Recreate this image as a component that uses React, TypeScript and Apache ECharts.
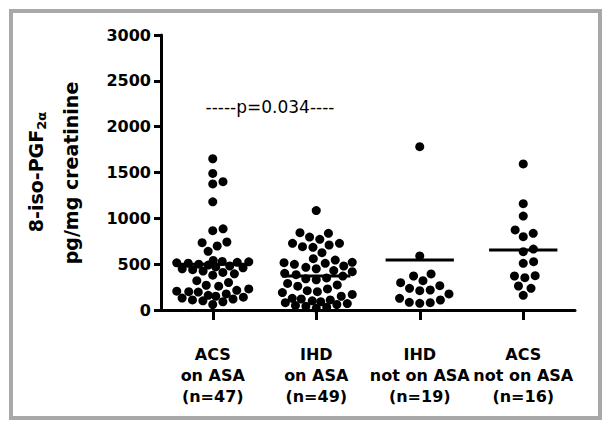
import React, { useEffect, useRef } from "react";
import * as echarts from "echarts";

const categories = [
  "ACS\non ASA\n(n=47)",
  "IHD\non ASA\n(n=49)",
  "IHD\nnot on ASA\n(n=19)",
  "ACS\nnot on ASA\n(n=16)",
];

const acsOnAsa = [
  1650, 1490, 1400, 1375, 1180, 885, 865, 742, 734, 698, 640,
  540, 530, 525, 520, 515, 510, 500, 490, 480, 470, 460, 450, 440, 425, 410, 395, 380,
  320, 300, 270, 260, 230, 215, 205, 200, 195, 175, 160, 150, 140, 130, 120, 110, 100, 90, 60,
];
const ihdOnAsa = [
  1085, 843, 836, 796, 771, 727, 727, 709, 691, 684, 625,
  560, 545, 520, 516, 509, 498, 480, 466, 450, 430, 418, 400, 385, 370, 350, 340, 330,
  290, 273, 260, 230, 211, 200, 190, 170, 150, 127, 120, 110, 100, 90, 80, 70, 60, 50, 40, 30, 20,
];
const ihdNotOnAsa = [1782, 589, 393, 371, 320, 298, 265, 237, 218, 211, 175, 127, 109, 84, 80, 73];
const acsNotOnAsa = [1593, 1160, 1025, 873, 836, 800, 665, 636, 527, 509, 374, 371, 353, 262, 237, 160];

const groups = [acsOnAsa, ihdOnAsa, ihdNotOnAsa, acsNotOnAsa];
const centralLines = [500, 370, 545, 655];

const yMin = 0;
const yMax = 3000;
const yInterval = 500;
const pValueText = "-----p=0.034----";

const FONT = "'DejaVu Sans', 'Liberation Sans', Arial, sans-serif";

// beeswarm layout in pixel space, with a maximum half-width (points overlap beyond it)
function swarm(ys: number[], D: number, W: number): number[] {
  const order = ys.map((_, i) => i).sort((a, b) => ys[b] - ys[a]);
  const xs = new Array(ys.length).fill(0);
  const placed: number[] = [];
  const minDist = (c: number, i: number) => {
    let best = Infinity;
    for (const j of placed) {
      const dx = c - xs[j];
      const dy = ys[i] - ys[j];
      best = Math.min(best, Math.sqrt(dx * dx + dy * dy));
    }
    return best;
  };
  for (const i of order) {
    const cands = [0];
    for (const j of placed) {
      const dy = ys[i] - ys[j];
      if (Math.abs(dy) < D) {
        const w = Math.sqrt(D * D - dy * dy);
        cands.push(xs[j] + w, xs[j] - w);
      }
    }
    cands.sort((a, b) => Math.abs(a) - Math.abs(b));
    let chosen: number | null = null;
    for (const c of cands) {
      if (Math.abs(c) > W) continue;
      if (minDist(c, i) >= D - 0.01) {
        chosen = c;
        break;
      }
    }
    if (chosen === null) {
      let bestC = 0;
      let bestD = -1;
      for (let c = -W; c <= W; c += 0.5) {
        const d = minDist(c, i);
        if (d > bestD + 1e-6) {
          bestD = d;
          bestC = c;
        }
      }
      chosen = bestC;
    }
    xs[i] = chosen;
    placed.push(i);
  }
  return xs;
}

export default function App() {
  const ref = useRef<HTMLDivElement>(null);
  useEffect(() => {
    document.body.style.margin = "0";
    const el = ref.current!;
    const chart = echarts.init(el, null, { renderer: "svg" });
    const base: any = {
      animation: false,
      backgroundColor: "#fff",
      grid: { left: 161, right: 29, top: 35, bottom: 113, containLabel: false },
      xAxis: [
        {
          type: "category",
          data: categories,
          boundaryGap: true,
          axisLine: { show: true, onZero: false, lineStyle: { color: "#000", width: 3 } },
          axisTick: { show: true, alignWithLabel: true, length: 10, lineStyle: { color: "#000", width: 3 } },
          axisLabel: {
            color: "#000",
            fontFamily: FONT,
            fontWeight: "bold",
            fontSize: 16,
            lineHeight: 21,
            margin: 34,
            interval: 0,
          },
          splitLine: { show: false },
        },
        { type: "value", min: -0.5, max: 3.5, show: false, splitLine: { show: false } },
      ],
      yAxis: {
        type: "value",
        min: yMin,
        max: yMax,
        interval: yInterval,
        axisLine: { show: true, onZero: false, lineStyle: { color: "#000", width: 3 } },
        axisTick: { show: true, length: 7, lineStyle: { color: "#000", width: 3 } },
        axisLabel: {
          color: "#000",
          fontFamily: FONT,
          fontWeight: "bold",
          fontSize: 16,
          margin: 10,
          formatter: (v: number) => String(v),
        },
        splitLine: { show: false },
      },
      graphic: [
        {
          type: "rect",
          shape: { x: 11, y: 11, width: 589, height: 407 },
          style: { fill: "none", stroke: "#a8a8a8", lineWidth: 4 },
          silent: true,
        },
        {
          type: "text",
          x: 36,
          y: 172,
          rotation: Math.PI / 2,
          style: {
            text: "{a|8-iso-PGF}{s|2α}",
            align: "center",
            verticalAlign: "middle",
            fill: "#000",
            rich: {
              a: { fontFamily: FONT, fontWeight: "bold", fontSize: 19, lineHeight: 24, fill: "#000" },
              s: { fontFamily: FONT, fontWeight: "bold", fontSize: 13, lineHeight: 13, verticalAlign: "bottom", fill: "#000" },
            },
          },
        },
        {
          type: "text",
          x: 71,
          y: 173,
          rotation: Math.PI / 2,
          style: {
            text: "pg/mg creatinine",
            align: "center",
            verticalAlign: "middle",
            fill: "#000",
            font: `bold 19px ${FONT}`,
          },
        },
        {
          type: "text",
          x: 270,
          y: 107,
          style: {
            text: pValueText,
            align: "center",
            verticalAlign: "middle",
            fill: "#000",
            font: `17px ${FONT}`,
          },
        },
      ],
      series: [],
    };
    chart.setOption(base);

    const px0 = chart.convertToPixel({ xAxisIndex: 1 } as any, 0) as number;
    const px1 = chart.convertToPixel({ xAxisIndex: 1 } as any, 1) as number;
    const unit = px1 - px0;
    const D = 10.5;
    const W = 36;

    const series: any[] = groups.map((vals, gi) => {
      const ys = vals.map((v) => chart.convertToPixel({ yAxisIndex: 0 } as any, v) as number);
      const xs = swarm(ys, D, W);
      return {
        type: "scatter",
        xAxisIndex: 1,
        yAxisIndex: 0,
        symbol: "circle",
        symbolSize: 9,
        itemStyle: { color: "#000", opacity: 1 },
        data: vals.map((v, i) => [gi + xs[i] / unit, v]),
        silent: true,
      };
    });
    series.push({
      type: "custom",
      coordinateSystem: "cartesian2d",
      xAxisIndex: 1,
      yAxisIndex: 0,
      data: centralLines.map((m, i) => [i, m]),
      renderItem: (_params: any, api: any) => {
        const c = api.value(0);
        const m = api.value(1);
        const p1 = api.coord([c - 0.33, m]);
        const p2 = api.coord([c + 0.33, m]);
        return {
          type: "line",
          shape: { x1: p1[0], y1: p1[1], x2: p2[0], y2: p2[1] },
          style: { stroke: "#000", lineWidth: 3 },
        };
      },
      silent: true,
      z: 3,
    });
    chart.setOption({ series });

    return () => chart.dispose();
  }, []);
  return <div ref={ref} style={{ width: 604, height: 423 }} />;
}
